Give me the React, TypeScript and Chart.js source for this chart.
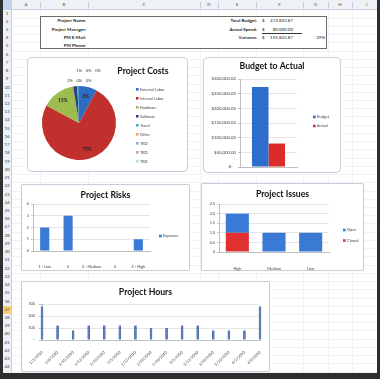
import React, { useEffect, useRef } from 'react';
import { Chart, registerables } from 'chart.js';

Chart.register(...registerables);

const FONT = 'Lato, "Open Sans", sans-serif';
Chart.defaults.font.family = FONT;
Chart.defaults.color = '#404040';

// ---- Sheet frame ----
const columnLetters = ['A', 'B', 'C', 'D', 'E', 'F', 'G', 'H', 'I'];
const columnEdges = [12, 40, 88, 200, 218, 256, 303, 328, 352, 382];
const rowCount = 45;
const activeRow = 37;

// ---- Project info block ----
const infoLeftLabels = ['Project Name:', 'Project Manager:', 'PM E-Mail:', 'PM Phone:'];
const infoRightLabels = ['Total Budget:', 'Actual Spend:', 'Variance:'];
const infoRightValues = ['272,823.87', '80,000.00', '192,823.87'];
const variancePct = '29%';

// ---- Project Costs ----
const costCategories = ['External Labor', 'Internal Labor', 'Hardware', 'Software', 'Travel', 'Other', 'TBD', 'TBD', 'TBD'];
const costValues = [21500, 205000, 40000, 5000, 2000, 0, 0, 0, 0];
const costColors = ['#2e6cc2', '#c2302e', '#9cbc50', '#43398c', '#45aac8', '#f2a07a', '#8db2e2', '#d595bd', '#b5dbe6'];

// ---- Budget to Actual ----
const budgetSeries = ['Budget', 'Actual'];
const budgetValues = [272823.87, 80000];
const budgetColors = ['#2f6dcc', '#dc2b2b'];

// ---- Project Risks ----
const riskCategories = ['1 - Low', '2', '3 - Medium', '4', '5 - High'];
const riskExposure = [2, 3, 0, 0, 1];

// ---- Project Issues ----
const issueCategories = ['High', 'Medium', 'Low'];
const issuesClosed = [1, 0, 0];
const issuesOpen = [1, 1, 1];

// ---- Project Hours ----
const hourDates = ['1/1/2010', '1/8/2010', '1/15/2010', '1/22/2010', '1/29/2010', '2/5/2010', '2/12/2010', '2/19/2010', '2/26/2010', '3/5/2010', '3/12/2010', '3/19/2010', '3/26/2010', '4/2/2010', '4/9/2010'];
const hourValues = [280, 120, 80, 120, 120, 120, 120, 100, 100, 120, 120, 80, 80, 80, 280];

const TITLE_SIZE = 8.7;

const decoPlugin = {
  id: 'deco',
  afterDraw(chart: any, _args: any, opts: any) {
    const ctx = chart.ctx;
    ctx.save();
    if (opts.title) {
      ctx.font = `bold ${opts.titleSize || TITLE_SIZE}px ${FONT}`;
      ctx.fillStyle = '#111';
      ctx.textAlign = 'center';
      ctx.textBaseline = 'middle';
      ctx.fillText(opts.title, opts.titleX ?? chart.width / 2, opts.titleY);
    }
    if (opts.legendX != null) {
      let items: { text: string; color: string }[];
      if (opts.legendFromLabels) {
        const ds = chart.data.datasets[0];
        items = chart.data.labels.map((l: string, i: number) => ({ text: l, color: ds.backgroundColor[i] }));
      } else {
        items = chart.data.datasets.map((d: any) => ({ text: d.label, color: d.backgroundColor }));
      }
      if (opts.legendReverse) items.reverse();
      const size = opts.legendFont || 3.8;
      const box = opts.legendBox || 2.6;
      ctx.font = `${size}px ${FONT}`;
      ctx.textAlign = 'left';
      ctx.textBaseline = 'middle';
      items.forEach((it, i) => {
        const y = opts.legendY + i * opts.legendGap;
        ctx.fillStyle = it.color;
        ctx.fillRect(opts.legendX, y - box / 2, box, box);
        ctx.fillStyle = '#404040';
        ctx.fillText(it.text, opts.legendX + box + 1.5, y);
      });
    }
    ctx.restore();
  },
};

const pieLabelPlugin = {
  id: 'pieLabels',
  afterDatasetsDraw(chart: any) {
    const meta = chart.getDatasetMeta(0);
    const values = chart.data.datasets[0].data as number[];
    const total = values.reduce((a, b) => a + b, 0);
    const ctx = chart.ctx;
    ctx.save();
    ctx.textAlign = 'center';
    ctx.textBaseline = 'middle';
    let k = 0;
    meta.data.forEach((arc: any, i: number) => {
      const pct = Math.round((values[i] / total) * 100);
      const { x, y, startAngle, endAngle, outerRadius } = arc.getProps(['x', 'y', 'startAngle', 'endAngle', 'outerRadius'], true);
      if (pct >= 5) {
        const a = (startAngle + endAngle) / 2;
        ctx.font = `bold 4.6px ${FONT}`;
        ctx.fillStyle = '#262626';
        ctx.fillText(pct + '%', x + Math.cos(a) * outerRadius * 0.75, y + Math.sin(a) * outerRadius * 0.75);
      } else {
        ctx.font = `4px ${FONT}`;
        ctx.fillStyle = '#404040';
        const lx = x - 9 + Math.ceil(k / 2) * 9.3;
        const ly = y - outerRadius - (k % 2 === 1 ? 15 : 5.5);
        ctx.fillText(pct + '%', lx, ly);
        k++;
      }
    });
    ctx.restore();
  },
};

const tickFont = (size: number) => ({ size, family: FONT });
const axisGrey = '#bfbfbf';
const gridGrey = '#e4e4e4';

function makePie() {
  return {
    type: 'pie',
    data: {
      labels: costCategories,
      datasets: [{ data: costValues, backgroundColor: costColors, borderWidth: 0 }],
    },
    options: {
      responsive: false,
      maintainAspectRatio: false,
      animation: false,
      devicePixelRatio: 1,
      layout: { padding: { left: 15, right: 72, top: 29, bottom: 12 } },
      plugins: {
        legend: { display: false },
        tooltip: { enabled: false },
        deco: { title: 'Project Costs', titleX: 116, titleY: 14, legendX: 109, legendY: 32.3, legendGap: 9, legendFromLabels: true },
      },
    },
    plugins: [decoPlugin, pieLabelPlugin],
  };
}

function makeBudget() {
  return {
    type: 'bar',
    data: {
      labels: [''],
      datasets: budgetSeries.map((s, i) => ({
        label: s,
        data: [budgetValues[i]],
        backgroundColor: budgetColors[i],
        categoryPercentage: 0.58,
        barPercentage: 1,
      })),
    },
    options: {
      responsive: false,
      maintainAspectRatio: false,
      animation: false,
      devicePixelRatio: 1,
      layout: { padding: { left: 7, right: 44, top: 22, bottom: 6 } },
      scales: {
        x: {
          grid: { display: false },
          ticks: { display: false },
          border: { color: axisGrey },
          afterFit: (s: any) => { s.height = 0; },
        },
        y: {
          min: 0,
          max: 300000,
          ticks: {
            stepSize: 50000,
            font: tickFont(4.3),
            padding: 2,
            callback: (v: any) => (v === 0 ? '$-   ' : '$' + Number(v).toLocaleString('en-US', { minimumFractionDigits: 2, maximumFractionDigits: 2 })),
          },
          grid: { color: gridGrey, tickLength: 2, tickColor: axisGrey },
          border: { color: axisGrey },
          afterFit: (s: any) => { s.width = 30; },
        },
      },
      plugins: {
        legend: { display: false },
        tooltip: { enabled: false },
        deco: { title: 'Budget to Actual', titleY: 9, legendX: 110, legendY: 60, legendGap: 9 },
      },
    },
    plugins: [decoPlugin],
  };
}

function makeRisks() {
  return {
    type: 'bar',
    data: {
      labels: riskCategories,
      datasets: [{ label: 'Exposure', data: riskExposure, backgroundColor: '#3a7ad4', categoryPercentage: 1, barPercentage: 0.39 }],
    },
    options: {
      responsive: false,
      maintainAspectRatio: false,
      animation: false,
      devicePixelRatio: 1,
      layout: { padding: { left: 3, right: 40, top: 20, bottom: 0 } },
      scales: {
        x: {
          grid: { display: false },
          ticks: { font: tickFont(3.8), padding: 5, maxRotation: 0, autoSkip: false },
          border: { color: axisGrey },
          afterFit: (s: any) => { s.height = 20; },
        },
        y: {
          min: 0,
          max: 4,
          ticks: { stepSize: 1, font: tickFont(3.8), padding: 2 },
          grid: { color: gridGrey, tickLength: 2, tickColor: axisGrey },
          border: { color: axisGrey },
          afterFit: (s: any) => { s.width = 9; },
        },
      },
      plugins: {
        legend: { display: false },
        tooltip: { enabled: false },
        deco: { title: 'Project Risks', titleY: 11, legendX: 138, legendY: 52, legendGap: 9 },
      },
    },
    plugins: [decoPlugin],
  };
}

function makeIssues() {
  return {
    type: 'bar',
    data: {
      labels: issueCategories,
      datasets: [
        { label: 'Closed', data: issuesClosed, backgroundColor: '#e03030', categoryPercentage: 1, barPercentage: 0.63 },
        { label: 'Open', data: issuesOpen, backgroundColor: '#3a7ad4', categoryPercentage: 1, barPercentage: 0.63 },
      ],
    },
    options: {
      responsive: false,
      maintainAspectRatio: false,
      animation: false,
      devicePixelRatio: 1,
      layout: { padding: { left: 4, right: 35, top: 21, bottom: 0 } },
      scales: {
        x: {
          stacked: true,
          grid: { display: false },
          ticks: { font: tickFont(3.8), padding: 6, maxRotation: 0 },
          border: { color: axisGrey },
          afterFit: (s: any) => { s.height = 19; },
        },
        y: {
          stacked: true,
          min: 0,
          max: 2.5,
          ticks: { stepSize: 0.5, font: tickFont(3.8), padding: 2 },
          grid: { color: gridGrey, tickLength: 2, tickColor: axisGrey },
          border: { color: axisGrey },
          afterFit: (s: any) => { s.width = 14; },
        },
      },
      plugins: {
        legend: { display: false },
        tooltip: { enabled: false },
        deco: { title: 'Project Issues', titleY: 11, legendX: 142, legendY: 47, legendGap: 10.5, legendReverse: true },
      },
    },
    plugins: [decoPlugin],
  };
}

function makeHours() {
  return {
    type: 'bar',
    data: {
      labels: hourDates,
      datasets: [{ label: 'Hours', data: hourValues, backgroundColor: '#5a80bb', borderColor: '#3f5f92', borderWidth: { left: 0.5, right: 0.5, top: 0, bottom: 0 }, barThickness: 2, clip: false }],
    },
    options: {
      responsive: false,
      maintainAspectRatio: false,
      animation: false,
      devicePixelRatio: 1,
      layout: { padding: { left: 5, right: 10, top: 23, bottom: 0 } },
      scales: {
        x: {
          offset: false,
          grid: { display: false },
          ticks: { font: tickFont(3.9), padding: 2, maxRotation: 45, minRotation: 45, autoSkip: false },
          border: { color: axisGrey },
          afterFit: (s: any) => { s.height = 32; },
        },
        y: {
          min: 0,
          max: 300,
          ticks: { stepSize: 50, font: tickFont(3.8), padding: 4, callback: (v: any) => (v === 0 ? '-' : String(v)) },
          grid: { color: gridGrey, tickLength: 3, tickColor: axisGrey },
          border: { color: axisGrey },
          afterFit: (s: any) => { s.width = 16; },
        },
      },
      plugins: {
        legend: { display: false },
        tooltip: { enabled: false },
        deco: { title: 'Project Hours', titleY: 11 },
      },
    },
    plugins: [decoPlugin],
  };
}

type PanelProps = { left: number; top: number; width: number; height: number; radius: number; make: () => any };

function ChartPanel({ left, top, width, height, radius, make }: PanelProps) {
  const ref = useRef<HTMLCanvasElement | null>(null);
  useEffect(() => {
    if (!ref.current) return;
    const chart = new Chart(ref.current, make());
    return () => chart.destroy();
  }, []);
  return (
    <div
      style={{
        position: 'absolute',
        left,
        top,
        width,
        height,
        background: '#fff',
        border: '1px solid #c6d0dc',
        borderRadius: radius,
        boxSizing: 'border-box',
        boxShadow: '0 0 1px rgba(0,0,0,0.1)',
      }}
    >
      <canvas ref={ref} width={width} height={height} style={{ position: 'absolute', left: -1, top: -1, width, height }} />
    </div>
  );
}

type TxtProps = { x: number; y: number; text: string; align?: 'left' | 'right' | 'center'; bold?: boolean; size?: number; color?: string };
function Txt({ x, y, text, align = 'left', bold, size = 4.5, color = '#222' }: TxtProps) {
  const w = 150;
  const left = align === 'left' ? x : align === 'right' ? x - w : x - w / 2;
  return (
    <div
      style={{
        position: 'absolute',
        left,
        top: y - 5,
        width: w,
        height: 10,
        lineHeight: '10px',
        fontSize: size,
        fontWeight: bold ? 700 : 400,
        color,
        textAlign: align,
        whiteSpace: 'nowrap',
      }}
    >
      {text}
    </div>
  );
}

const ROW_TOP = 9.5;
const ROW_H = 8.23;

export default function App() {
  const rows = Array.from({ length: rowCount }, (_, i) => i + 1);
  const infoY = [21, 29.5, 37.8, 46];
  return (
    <div style={{ position: 'fixed', left: 0, top: 0, width: 380, height: 379, background: '#fff', overflow: 'hidden', fontFamily: FONT }}>
      {/* cell gridlines */}
      {rows.slice(0, rowCount - 1).map((r) => (
        <div key={'h' + r} style={{ position: 'absolute', left: 12, top: ROW_TOP + r * ROW_H, width: 366, height: 1, background: '#f0f2f5' }} />
      ))}
      {columnEdges.slice(1, -1).map((x) => (
        <div key={'v' + x} style={{ position: 'absolute', left: x, top: ROW_TOP, width: 1, height: 366, background: '#f0f2f5' }} />
      ))}

      {/* column header */}
      <div style={{ position: 'absolute', left: 3, top: 0, width: 374, height: ROW_TOP, background: '#eef1f5', borderBottom: '1px solid #c9d0d9', boxSizing: 'border-box' }} />
      <div style={{ position: 'absolute', left: 3, top: 0, width: 9, height: ROW_TOP, background: '#c3d4ec' }} />
      {columnLetters.map((c, i) => (
        <div
          key={c}
          style={{
            position: 'absolute',
            left: columnEdges[i],
            top: 0,
            width: columnEdges[i + 1] - columnEdges[i],
            height: ROW_TOP,
            lineHeight: ROW_TOP + 'px',
            fontSize: 4.5,
            color: '#555',
            textAlign: 'center',
          }}
        >
          {c}
        </div>
      ))}
      {columnEdges.slice(1, -1).map((x) => (
        <div key={'s' + x} style={{ position: 'absolute', left: x, top: 2, width: 1, height: 6, background: '#c9d0d9' }} />
      ))}

      {/* row header */}
      <div style={{ position: 'absolute', left: 3, top: ROW_TOP, width: 9, height: 370, background: '#eef1f5', borderRight: '1px solid #c9d0d9', boxSizing: 'border-box' }} />
      {rows.map((r) => (
        <div
          key={'r' + r}
          style={{
            position: 'absolute',
            left: 3,
            top: ROW_TOP + (r - 1) * ROW_H,
            width: 8,
            height: ROW_H,
            lineHeight: ROW_H + 'px',
            fontSize: 4.5,
            color: '#444',
            textAlign: 'center',
            background: r === activeRow ? '#f6cf78' : 'transparent',
          }}
        >
          {r}
        </div>
      ))}

      {/* info block */}
      <div style={{ position: 'absolute', left: 40, top: 16, width: 287, height: 33, border: '1px solid #6b6b6b', boxSizing: 'border-box', background: '#fff' }} />
      {infoLeftLabels.map((t, i) => (
        <Txt key={t} x={86} y={infoY[i]} text={t} align="right" bold />
      ))}
      {infoRightLabels.map((t, i) => (
        <React.Fragment key={t}>
          <Txt x={257} y={infoY[i]} text={t} align="right" bold />
          <Txt x={262} y={infoY[i]} text="$" />
          <Txt x={293} y={infoY[i]} text={infoRightValues[i]} align="right" />
        </React.Fragment>
      ))}
      <div style={{ position: 'absolute', left: 262, top: 32.8, width: 40, height: 0.8, background: '#333' }} />
      <Txt x={325} y={infoY[2]} text={variancePct} align="right" />

      {/* chart panels */}
      <ChartPanel left={27} top={57} width={161} height={115} radius={5} make={makePie} />
      <ChartPanel left={203} top={57} width={138} height={116} radius={5} make={makeBudget} />
      <ChartPanel left={21} top={184} width={169} height={87} radius={2} make={makeRisks} />
      <ChartPanel left={201} top={183} width={163} height={88} radius={2} make={makeIssues} />
      <ChartPanel left={21} top={281} width={249} height={91} radius={2} make={makeHours} />

      {/* dark window frame */}
      <div style={{ position: 'absolute', left: 0, top: 0, width: 3, height: 379, background: '#2e2e2e' }} />
      <div style={{ position: 'absolute', left: 377, top: 0, width: 3, height: 379, background: '#2e2e2e' }} />
      <div style={{ position: 'absolute', left: 0, top: 373, width: 380, height: 6, background: '#2e2e2e' }} />
    </div>
  );
}
